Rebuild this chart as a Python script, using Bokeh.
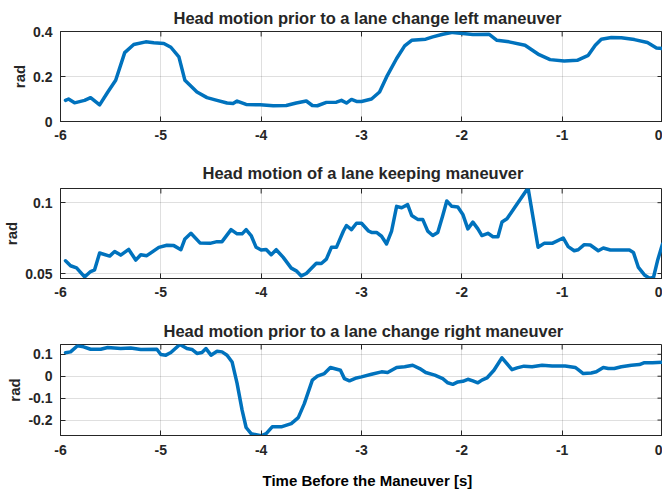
from bokeh.plotting import figure
from bokeh.layouts import column
from bokeh.models import Range1d, FixedTicker, Title
from bokeh.embed import file_html
from bokeh.resources import INLINE

# ---------------- data ----------------
x_ticks = [-6, -5, -4, -3, -2, -1, 0]
x_tick_labels = ["-6", "-5", "-4", "-3", "-2", "-1", "0"]

t_left = [-5.95, -5.92, -5.86, -5.76, -5.70, -5.61, -5.53, -5.45, -5.36, -5.27, -5.15, -5.07, -4.97,
          -4.90, -4.82, -4.76, -4.64, -4.54, -4.44, -4.34, -4.28, -4.24, -4.15, -4.01, -3.88, -3.75,
          -3.65, -3.55, -3.49, -3.44, -3.35, -3.25, -3.20, -3.15, -3.10, -3.05, -3.00, -2.90, -2.82,
          -2.75, -2.65, -2.57, -2.50, -2.36, -2.29, -2.19, -2.09, -1.99, -1.89, -1.73, -1.65, -1.53,
          -1.37, -1.23, -1.12, -0.98, -0.85, -0.74, -0.67, -0.61, -0.51, -0.41, -0.28, -0.15, -0.06, 0.0]
v_left = [0.094, 0.100, 0.083, 0.094, 0.106, 0.074, 0.130, 0.183, 0.306, 0.342, 0.354, 0.350, 0.347,
          0.330, 0.287, 0.183, 0.131, 0.106, 0.094, 0.082, 0.080, 0.091, 0.076, 0.074, 0.070, 0.071,
          0.082, 0.091, 0.071, 0.070, 0.085, 0.086, 0.094, 0.082, 0.098, 0.089, 0.089, 0.100, 0.131,
          0.198, 0.280, 0.336, 0.361, 0.366, 0.376, 0.388, 0.396, 0.391, 0.387, 0.388, 0.361, 0.354,
          0.339, 0.297, 0.275, 0.269, 0.272, 0.294, 0.339, 0.366, 0.373, 0.372, 0.364, 0.351, 0.327, 0.324]
y_ticks_left = [0, 0.2, 0.4]
y_labels_left = ["0", "0.2", "0.4"]

t_keep = [-5.95, -5.90, -5.84, -5.76, -5.70, -5.66, -5.61, -5.51, -5.46, -5.40, -5.32, -5.25, -5.20,
          -5.14, -5.02, -4.94, -4.87, -4.80, -4.76, -4.70, -4.61, -4.51, -4.44, -4.39, -4.30, -4.24,
          -4.19, -4.15, -4.10, -4.05, -4.00, -3.95, -3.90, -3.85, -3.78, -3.70, -3.65, -3.60, -3.55,
          -3.45, -3.40, -3.35, -3.30, -3.25, -3.18, -3.15, -3.10, -3.05, -3.00, -2.93, -2.90, -2.85,
          -2.80, -2.75, -2.70, -2.65, -2.60, -2.54, -2.50, -2.44, -2.39, -2.34, -2.29, -2.24, -2.19,
          -2.15, -2.10, -2.04, -1.99, -1.94, -1.89, -1.84, -1.80, -1.74, -1.69, -1.64, -1.60, -1.55,
          -1.47, -1.34, -1.24, -1.18, -1.10, -0.99, -0.94, -0.88, -0.84, -0.78, -0.72, -0.64, -0.59,
          -0.52, -0.44, -0.33, -0.29, -0.24, -0.18, -0.13, -0.09, -0.05, 0.0]
v_keep = [0.0590, 0.0555, 0.0540, 0.0476, 0.0514, 0.0526, 0.0645, 0.0623, 0.0656, 0.0630, 0.0670,
          0.0595, 0.0633, 0.0626, 0.0685, 0.0700, 0.0697, 0.0668, 0.0744, 0.0784, 0.0716, 0.0713,
          0.0725, 0.0725, 0.0810, 0.0780, 0.0780, 0.0810, 0.0768, 0.0685, 0.0666, 0.0670, 0.0633,
          0.0668, 0.0614, 0.0538, 0.0519, 0.0483, 0.0500, 0.0573, 0.0571, 0.0602, 0.0685, 0.0685,
          0.0800, 0.0839, 0.0810, 0.0855, 0.0855, 0.0800, 0.0790, 0.0790, 0.0763, 0.0709, 0.0800,
          0.0974, 0.0964, 0.0986, 0.0910, 0.0882, 0.0882, 0.0799, 0.0768, 0.0790, 0.0910, 0.1012,
          0.0974, 0.0970, 0.0917, 0.0815, 0.0863, 0.0815, 0.0768, 0.0784, 0.0760, 0.0760, 0.0863,
          0.0886, 0.0970, 0.1104, 0.0685, 0.0713, 0.0713, 0.0751, 0.0690, 0.0661, 0.0668, 0.0704,
          0.0701, 0.0661, 0.0680, 0.0666, 0.0666, 0.0666, 0.0649, 0.0543, 0.0490, 0.0467, 0.0472,
          0.0590, 0.0709]
y_ticks_keep = [0.05, 0.1]
y_labels_keep = ["0.05", "0.1"]

t_right = [-5.95, -5.90, -5.83, -5.77, -5.70, -5.60, -5.53, -5.40, -5.30, -5.20, -5.04, -5.00, -4.95,
           -4.90, -4.81, -4.74, -4.69, -4.64, -4.59, -4.55, -4.50, -4.44, -4.39, -4.34, -4.29, -4.24,
           -4.19, -4.15, -4.10, -4.00, -3.95, -3.89, -3.80, -3.70, -3.63, -3.57, -3.49, -3.44, -3.37,
           -3.31, -3.21, -3.17, -3.12, -3.05, -3.00, -2.90, -2.80, -2.74, -2.65, -2.57, -2.49, -2.42,
           -2.36, -2.27, -2.19, -2.14, -2.09, -2.04, -1.99, -1.94, -1.89, -1.84, -1.80, -1.75, -1.68,
           -1.60, -1.50, -1.45, -1.38, -1.30, -1.20, -1.10, -0.97, -0.87, -0.84, -0.79, -0.71, -0.66,
           -0.59, -0.54, -0.48, -0.41, -0.31, -0.23, -0.18, -0.10, 0.0]
v_right = [0.107, 0.111, 0.139, 0.134, 0.123, 0.123, 0.131, 0.126, 0.129, 0.122, 0.123, 0.099, 0.096,
           0.108, 0.145, 0.126, 0.122, 0.104, 0.108, 0.126, 0.096, 0.114, 0.111, 0.096, 0.065, -0.033,
           -0.155, -0.234, -0.262, -0.272, -0.262, -0.231, -0.231, -0.216, -0.189, -0.125, -0.018, 0.0,
           0.012, 0.040, 0.027, -0.011, -0.021, -0.008, -0.003, 0.009, 0.020, 0.017, 0.040, 0.043,
           0.050, 0.035, 0.017, 0.005, -0.011, -0.030, -0.037, -0.026, -0.023, -0.014, -0.021, -0.030,
           -0.018, -0.008, 0.027, 0.084, 0.030, 0.038, 0.046, 0.043, 0.050, 0.047, 0.047, 0.040,
           0.030, 0.012, 0.015, 0.020, 0.040, 0.035, 0.035, 0.043, 0.050, 0.053, 0.062, 0.061, 0.064]
y_ticks_right = [-0.2, -0.1, 0, 0.1]
y_labels_right = ["-0.2", "-0.1", "0", "0.1"]

titles = ["Head motion prior to a lane change left maneuver",
          "Head motion of a lane keeping maneuver",
          "Head motion prior to a lane change right maneuver"]
y_label = "rad"
x_label = "Time Before the Maneuver [s]"

# ---------------- styling ----------------
FONT = "Liberation Sans"
AX = "#262626"
LINE = "#0072BD"
W = 662


def panel(title, t, v, yr, yticks, ylabels, frame_h, btop, bbottom, tstand, tleft, xstand,
          xlabel=None):
    p = figure(width=W, frame_height=frame_h, output_backend="svg",
               toolbar_location=None,
               x_range=Range1d(-6, 0), y_range=Range1d(*yr),
               min_border_left=55, min_border_right=0, min_border_top=btop,
               min_border_bottom=bbottom, background_fill_color="white",
               border_fill_color="white")
    p.title = Title(text=title, align="left", offset=tleft, text_font=FONT,
                    text_font_size="16.5px", text_font_style="bold", text_color=AX,
                    standoff=tstand)
    p.outline_line_color = AX
    p.outline_line_alpha = 1
    p.outline_line_width = 1

    xa = p.below[0]
    ya = p.left[0]
    xa.ticker = FixedTicker(ticks=x_ticks)
    xa.major_label_overrides = {tk: lb for tk, lb in zip(x_ticks, x_tick_labels)}
    ya.ticker = FixedTicker(ticks=yticks)
    ya.major_label_overrides = {tk: lb for tk, lb in zip(yticks, ylabels)}
    ya.axis_label = y_label
    ya.axis_label_standoff = 2
    ya.major_label_standoff = 8
    xa.major_label_standoff = xstand
    for a in (xa, ya):
        a.major_tick_in = 5
        a.major_tick_out = 0
        a.minor_tick_line_color = None
        a.axis_line_color = AX
        a.major_tick_line_color = AX
        a.major_label_text_font = FONT
        a.major_label_text_font_style = "bold"
        a.major_label_text_font_size = "14px"
        a.major_label_text_color = AX
        a.axis_label_text_font = FONT
        a.axis_label_text_font_style = "bold"
    ya.axis_label_text_font_size = "15px"
    ya.axis_label_text_color = AX
    if xlabel:
        p.add_layout(Title(text=xlabel, align="left", offset=202, text_font=FONT,
                           text_font_size="15px", text_font_style="bold",
                           text_color="#000000", standoff=24), "below")

    p.xgrid.ticker = FixedTicker(ticks=x_ticks)
    p.ygrid.ticker = FixedTicker(ticks=yticks)
    for g in (p.xgrid, p.ygrid):
        g.grid_line_color = AX
        g.grid_line_alpha = 0.15
        g.grid_line_width = 1

    # mirrored (box) ticks on the top and right edges, half of each dash falls outside the frame
    p.scatter(x_ticks, [yr[1]] * len(x_ticks), marker="dash", angle=1.5708, size=10,
              line_color=AX, line_width=1)
    p.scatter([0] * len(yticks), yticks, marker="dash", size=10, line_color=AX, line_width=1)

    p.line(t, v, line_color=LINE, line_width=3.5, line_join="round", line_cap="round")
    return p


p1 = panel(titles[0], t_left, v_left, (0, 0.4), y_ticks_left, y_labels_left,
           90, 31, 29, 10, 113, 8)
p2 = panel(titles[1], t_keep, v_keep, (0.0465, 0.110), y_ticks_keep, y_labels_keep,
           90, 38, 36, 13, 142, 8)
p3 = panel(titles[2], t_right, v_right, (-0.2705, 0.1447), y_ticks_right, y_labels_right,
           91, 30, 59, 9, 103, 9, xlabel=x_label)

layout = column(p1, p2, p3, spacing=0)
open("out.html", "w").write(file_html(layout, INLINE))
